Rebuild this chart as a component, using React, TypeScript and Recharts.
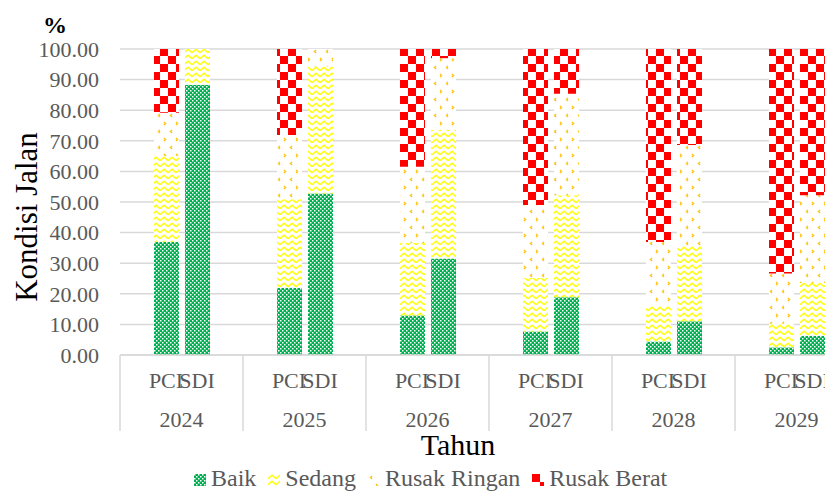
import { BarChart, Bar, XAxis, YAxis, CartesianGrid, Legend } from "recharts";

// Kondisi jalan (%) per tahun, PCI dan SDI
const years = ["2024", "2025", "2026", "2027", "2028", "2029"];
const pciBaik = [37.0, 22.0, 12.9, 7.7, 4.4, 2.5];
const pciSedang = [28.0, 28.9, 23.7, 17.5, 11.8, 7.7];
const pciRingan = [14.2, 21.0, 24.9, 23.8, 20.7, 16.4];
const pciBerat = [20.8, 28.1, 38.5, 51.0, 63.1, 73.4];
const sdiBaik = [88.3, 52.8, 31.5, 18.9, 11.0, 6.3];
const sdiSedang = [11.7, 41.5, 42.1, 33.3, 24.8, 17.2];
const sdiRingan = [0, 5.7, 23.4, 33.2, 32.8, 28.7];
const sdiBerat = [0, 0, 3.0, 14.6, 31.4, 47.8];
const yTicks = [0, 10, 20, 30, 40, 50, 60, 70, 80, 90, 100];
const legendItems = [
  { name: "Baik", fill: "url(#patBaik)" },
  { name: "Sedang", fill: "url(#patSedang)" },
  { name: "Rusak Ringan", fill: "url(#patRingan)" },
  { name: "Rusak Berat", fill: "url(#patBerat)" },
];

const data = years.map((year, i) => ({
  year,
  pciBaik: pciBaik[i],
  pciSedang: pciSedang[i],
  pciRingan: pciRingan[i],
  pciBerat: pciBerat[i],
  sdiBaik: sdiBaik[i],
  sdiSedang: sdiSedang[i],
  sdiRingan: sdiRingan[i],
  sdiBerat: sdiBerat[i],
}));

const FONT = "'Liberation Serif', 'Times New Roman', serif";
const GREY = "#595959";
const CHART_W = 858;
const LEFT = 120;
const BAND = (CHART_W - LEFT) / years.length;

const XTick = (props: any) => {
  const { x, y, payload, index } = props;
  const textProps = { fontFamily: FONT, fontSize: 22, fill: GREY, textAnchor: "middle" as const };
  return (
    <g>
      <line x1={x - BAND / 2} x2={x - BAND / 2} y1={y} y2={y + 76} stroke="#d9d9d9" strokeWidth={1.5} />
      {index === years.length - 1 && (
        <line x1={x + BAND / 2} x2={x + BAND / 2} y1={y} y2={y + 76} stroke="#d9d9d9" strokeWidth={1.5} />
      )}
      <text x={x - 15.5} y={y + 33} {...textProps}>PCI</text>
      <text x={x + 15.5} y={y + 33} {...textProps}>SDI</text>
      <text x={x} y={y + 72} {...textProps}>{payload.value}</text>
    </g>
  );
};

const LegendContent = () => (
  <div style={{ display: "flex", alignItems: "center", fontFamily: FONT, fontSize: 24, color: GREY }}>
    {legendItems.map((it) => (
      <div key={it.name} style={{ display: "flex", alignItems: "center", marginRight: 12 }}>
        <svg width={12} height={12} style={{ marginRight: 5, marginTop: 3 }}>
          <rect width={12} height={12} fill={it.fill} />
        </svg>
        <span>{it.name}</span>
      </div>
    ))}
  </div>
);

export default function App() {
  return (
    <div style={{ position: "absolute", left: 0, top: 0, width: 825, height: 494, overflow: "hidden", background: "#fff" }}>
      <BarChart
        width={CHART_W}
        height={494}
        data={data}
        margin={{ top: 49, right: 0, left: 20, bottom: 29 }}
        barSize={25}
        barGap={6}
      >
        <defs>
          <pattern id="patBaik" patternUnits="userSpaceOnUse" width={4} height={4}>
            <rect width={4} height={4} fill="#00b050" />
            <rect x={0} y={0} width={1.5} height={1.5} fill="#ffffff" />
            <rect x={2} y={2} width={1.5} height={1.5} fill="#ffffff" />
          </pattern>
          <pattern id="patSedang" patternUnits="userSpaceOnUse" width={8} height={6}>
            <rect width={8} height={6} fill="#ffffff" />
            <path d="M0 4.8 L4 1.2 L8 4.8" stroke="#ffff00" strokeWidth={1.4} fill="none" />
          </pattern>
          <pattern id="patRingan" patternUnits="userSpaceOnUse" width={12} height={16}>
            <rect width={12} height={16} fill="#ffffff" />
            <path d="M4 2 L2.5 3.5 L4 5" stroke="#ffc000" strokeWidth={1.3} fill="none" />
            <path d="M8 10 L9.5 11.5 L8 13" stroke="#ffc000" strokeWidth={1.3} fill="none" />
          </pattern>
          <pattern id="patBerat" patternUnits="userSpaceOnUse" width={16} height={16}>
            <rect width={16} height={16} fill="#ffffff" />
            <rect x={0} y={0} width={8} height={8} fill="#ff0000" />
            <rect x={8} y={8} width={8} height={8} fill="#ff0000" />
          </pattern>
        </defs>
        <CartesianGrid vertical={false} stroke="#d9d9d9" strokeWidth={1.5} />
        <XAxis
          dataKey="year"
          interval={0}
          height={110}
          tickLine={false}
          tickSize={0}
          tickMargin={0}
          axisLine={{ stroke: "#d9d9d9", strokeWidth: 1.5 }}
          tick={<XTick />}
          label={({ viewBox }: any) => (
            <text x={458} y={viewBox.y + viewBox.height - 10} textAnchor="middle" fontFamily={FONT} fontSize={30} fill="#000">
              Tahun
            </text>
          )}
        />
        <YAxis
          width={100}
          domain={[0, 100]}
          ticks={yTicks}
          interval={0}
          tickFormatter={(v: number) => v.toFixed(2)}
          axisLine={false}
          tickLine={false}
          tickMargin={15}
          tick={{ fontFamily: FONT, fontSize: 22, fill: GREY }}
          label={() => (
            <text x={37} y={217} transform="rotate(-90 37 217)" textAnchor="middle" fontFamily={FONT} fontSize={31} fill="#000">
              Kondisi Jalan
            </text>
          )}
        />
        <text x={55} y={33} textAnchor="middle" fontFamily={FONT} fontSize={24} fontWeight="bold" fill="#000">
          %
        </text>
        <Bar dataKey="pciBaik" stackId="pci" fill="url(#patBaik)" isAnimationActive={false} />
        <Bar dataKey="pciSedang" stackId="pci" fill="url(#patSedang)" isAnimationActive={false} />
        <Bar dataKey="pciRingan" stackId="pci" fill="url(#patRingan)" isAnimationActive={false} />
        <Bar dataKey="pciBerat" stackId="pci" fill="url(#patBerat)" isAnimationActive={false} />
        <Bar dataKey="sdiBaik" stackId="sdi" fill="url(#patBaik)" isAnimationActive={false} />
        <Bar dataKey="sdiSedang" stackId="sdi" fill="url(#patSedang)" isAnimationActive={false} />
        <Bar dataKey="sdiRingan" stackId="sdi" fill="url(#patRingan)" isAnimationActive={false} />
        <Bar dataKey="sdiBerat" stackId="sdi" fill="url(#patBerat)" isAnimationActive={false} />
        <Legend
          layout="horizontal"
          verticalAlign="middle"
          align="center"
          content={<LegendContent />}
          wrapperStyle={{ top: 465, left: 194, width: 600, height: 30 }}
        />
      </BarChart>
    </div>
  );
}
